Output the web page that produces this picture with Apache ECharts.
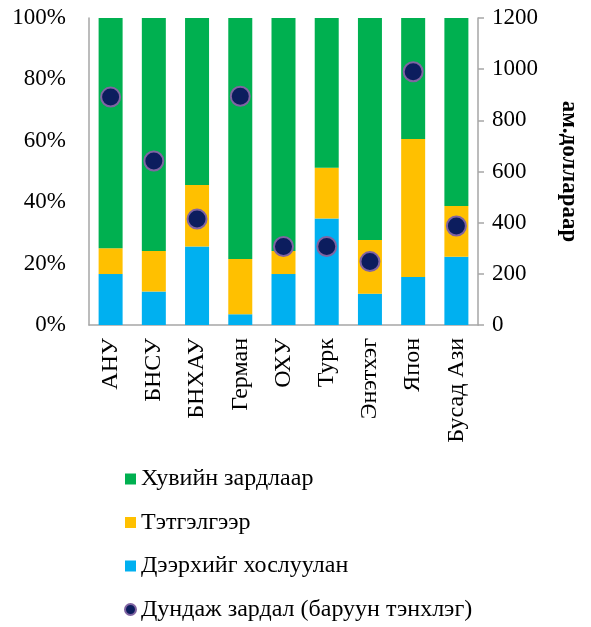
<!DOCTYPE html>
<html><head><meta charset="utf-8">
<script src="https://cdn.jsdelivr.net/npm/echarts@6/dist/echarts.min.js"></script>
<style>html,body{margin:0;padding:0;background:#fff}#c{width:591px;height:627px}</style>
</head><body><div id="c"></div>
<script>
const categories = ['АНУ','БНСУ','БНХАУ','Герман','ОХУ','Турк','Энэтхэг','Япон','Бусад Ази'];
const combined = [16.6,10.9,25.6,3.5,16.6,34.7,10.2,15.6,22.2];
const grants   = [8.4,13.2,20.0,18.0,7.5,16.5,17.5,45.0,16.6];
const personal = [75.0,75.9,54.4,78.5,75.9,48.8,72.3,39.4,61.2];
const avgCost  = [891,641,414,894,307,307,248,990,387];
const leftTicks = ['0%','20%','40%','60%','80%','100%'];

const F = 'Liberation Serif, Times New Roman, serif';
const axisCol = '#a6a6a6';
const chart = echarts.init(document.getElementById('c'));
chart.setOption({
  animation:false,
  textStyle:{fontFamily:F},
  grid:{left:89,right:113,top:18,bottom:302},
  legend:{
    orient:'vertical', left:119, top:462, height:300, itemGap:19.5, itemWidth:11, itemHeight:11,
    textStyle:{fontFamily:F,fontSize:24,color:'#000'},
    data:[
      {name:'Хувийн зардлаар',icon:'rect'},
      {name:'Тэтгэлгээр',icon:'rect'},
      {name:'Дээрхийг хослуулан',icon:'rect'},
      {name:'Дундаж зардал (баруун тэнхлэг)',icon:'circle'}
    ]
  },
  xAxis:{type:'category',data:categories,
    axisLine:{lineStyle:{color:axisCol,width:1.5}},axisTick:{show:false},
    axisLabel:{rotate:90,fontFamily:F,fontSize:24,color:'#000',margin:13}},
  yAxis:[
    {type:'value',min:0,max:100,interval:20,
     axisLine:{show:true,lineStyle:{color:axisCol,width:1.5}},axisTick:{show:false},splitLine:{show:false},
     axisLabel:{fontFamily:F,fontSize:23,color:'#000',margin:23,formatter:v=>leftTicks[v/20]}},
    {type:'value',min:0,max:1200,interval:200,position:'right',
     name:'ам.доллараар',nameLocation:'middle',nameRotate:-90,nameGap:79,
     nameTextStyle:{fontFamily:F,fontSize:23,fontWeight:'bold',color:'#000'},
     axisLine:{show:true,lineStyle:{color:axisCol,width:1.5}},
     axisTick:{show:true,length:6,lineStyle:{color:axisCol,width:1.5}},splitLine:{show:false},
     axisLabel:{fontFamily:F,fontSize:23,color:'#000',margin:14,formatter:v=>String(v)}}
  ],
  series:[
    {name:'Дээрхийг хослуулан',type:'bar',stack:'s',data:combined,barWidth:24,itemStyle:{color:'#00b0f0'}},
    {name:'Тэтгэлгээр',type:'bar',stack:'s',data:grants,barWidth:24,itemStyle:{color:'#ffc000'}},
    {name:'Хувийн зардлаар',type:'bar',stack:'s',data:personal,barWidth:24,itemStyle:{color:'#00b050'}},
    {name:'Дундаж зардал (баруун тэнхлэг)',type:'scatter',yAxisIndex:1,data:avgCost,symbolSize:19,
     itemStyle:{color:'#0c1d5e',borderColor:'#8064a2',borderWidth:2,opacity:1},z:5}
  ]
});
</script></body></html>
